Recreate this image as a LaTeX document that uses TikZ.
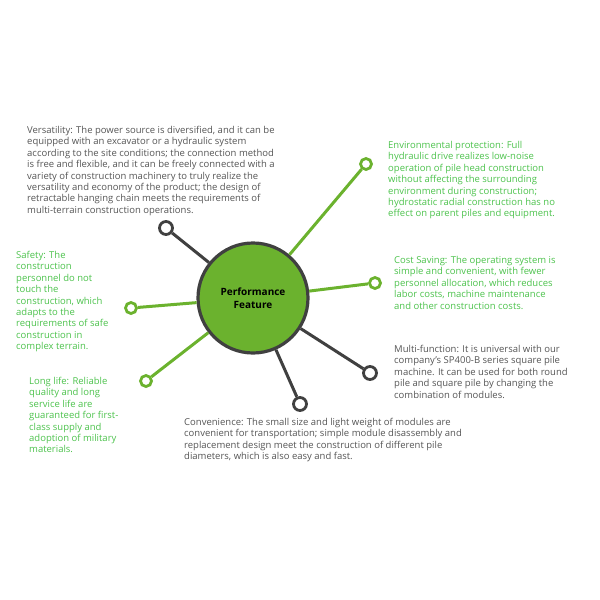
\documentclass[tikz,border=0pt]{standalone}
\usepackage{fontspec}
\setmainfont{Open Sans}
\definecolor{leafgreen}{HTML}{6BB22E}
\definecolor{textgreen}{HTML}{4CC24C}
\definecolor{darkline}{HTML}{404040}
\definecolor{textgray}{HTML}{555555}
\begin{document}
\begin{tikzpicture}[
				x=1pt, y=-1pt,
				greenring/.style={circle, draw=leafgreen, line width=2.8pt, minimum size=11pt, inner sep=0pt},
				darkring/.style={circle, draw=darkline, line width=2.8pt, minimum size=13pt, inner sep=0pt},
				greenleg/.style={draw=leafgreen, line width=3pt},
				darkleg/.style={draw=darkline, line width=3pt},
				every node/.style={font=\fontsize{9.5}{11.4}\selectfont, align=left, anchor=north west, inner sep=0pt}
				]
				\useasboundingbox (0,0) rectangle (600,600);
				
				% Vòng tròn trung tâm
				\node[circle, fill=leafgreen, draw=darkline, line width=3.2pt, minimum size=110pt, anchor=center,
					align=center, font=\fontsize{10}{12.5}\selectfont\bfseries] (core) at (253,298) {Performance\\Feature};
				
				% Các vòng nhỏ ở đầu nhánh
				\node[darkring, anchor=center] (versa) at (166,228) {};
				\node[greenring, anchor=center] (envir) at (366,164) {};
				\node[greenring, anchor=center] (cost) at (375,283) {};
				\node[darkring, anchor=center] (multi) at (370,373) {};
				\node[darkring, anchor=center] (conv) at (300,404) {};
				\node[greenring, anchor=center] (life) at (146,381) {};
				\node[greenring, anchor=center] (safe) at (131,308) {};
				
				% Các nhánh
				\draw[darkleg] (core) -- (versa);
				\draw[greenleg] (core) -- (envir);
				\draw[greenleg] (core) -- (cost);
				\draw[darkleg] (core) -- (multi);
				\draw[darkleg] (core) -- (conv);
				\draw[greenleg] (core) -- (life);
				\draw[greenleg] (core) -- (safe);
				
				% Các đoạn chữ
				\node[text=textgray] (versatxt) at (27,126) {Versatility: The power source is diversified, and it can be\\equipped with an excavator or a hydraulic system\\according to the site conditions; the connection method\\is free and flexible, and it can be freely connected with a\\variety of construction machinery to truly realize the\\versatility and economy of the product; the design of\\retractable hanging chain meets the requirements of\\multi-terrain construction operations.};
				\node[text=textgreen] (envirtxt) at (388,141) {Environmental protection: Full\\hydraulic drive realizes low-noise\\operation of pile head construction\\without affecting the surrounding\\environment during construction;\\hydrostatic radial construction has no\\effect on parent piles and equipment.};
				\node[text=textgreen] (costtxt) at (394,256) {Cost Saving: The operating system is\\simple and convenient, with fewer\\personnel allocation, which reduces\\labor costs, machine maintenance\\and other construction costs.};
				\node[text=textgray] (multitxt) at (394,345) {Multi-function: It is universal with our\\company's SP400-B series square pile\\machine. It can be used for both round\\pile and square pile by changing the\\combination of modules.};
				\node[text=textgray] (convtxt) at (184,418) {Convenience: The small size and light weight of modules are\\convenient for transportation; simple module disassembly and\\replacement design meet the construction of different pile\\diameters, which is also easy and fast.};
				\node[text=textgreen] (lifetxt) at (29,377) {Long life: Reliable\\quality and long\\service life are\\guaranteed for first-\\class supply and\\adoption of military\\materials.};
				\node[text=textgreen] (safetxt) at (16,251) {Safety: The\\construction\\personnel do not\\touch the\\construction, which\\adapts to the\\requirements of safe\\construction in\\complex terrain.};
				
			\end{tikzpicture}
\end{document}
